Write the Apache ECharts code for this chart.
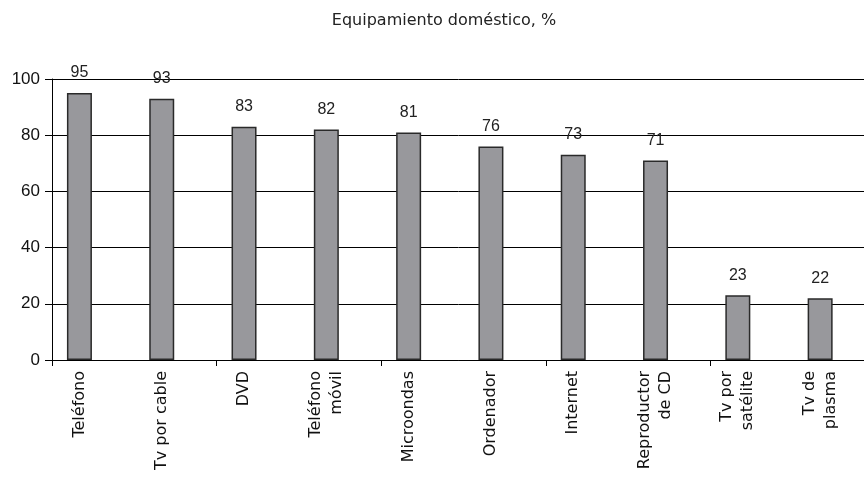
<!doctype html>
<html lang="es">
<head>
    <meta charset="UTF-8">
    <script type="text/javascript" src="https://cdn.jsdelivr.net/npm/echarts@6/dist/echarts.min.js"></script>
    <title>Equipamiento doméstico</title>
    <style>
        html, body { margin: 0; padding: 0; background: #fff; }
    </style>
</head>
<body>
    <div id="main" style="width: 864px;height:488px;"></div>
</body>
<script type="text/javascript">
    // datos del gráfico
    var categories = ['Teléfono', 'Tv por cable', 'DVD', 'Teléfono\nmóvil', 'Microondas',
        'Ordenador', 'Internet', 'Reproductor\nde CD', 'Tv por\nsatélite', 'Tv de\nplasma'];
    var values = [95, 93, 83, 82, 81, 76, 73, 71, 23, 22];
    var yTicks = [0, 20, 40, 60, 80, 100];
    var titleText = 'Equipamiento doméstico, %';

    var catWidth = 82.3;   // ancho de cada categoría
    var plotW = catWidth * categories.length;

    var myChart = echarts.init(document.getElementById('main'));
    myChart.setOption({
        animation: false,
        title: {
            text: titleText,
            left: 439,
            textAlign: 'center',
            top: 8,
            textStyle: {
                fontFamily: 'DejaVu Sans',
                fontSize: 16,
                fontWeight: 'normal',
                color: '#222'
            }
        },
        // grid 0: ejes, marcas y líneas; grid 1: barras y etiquetas (desplazadas a la izquierda)
        grid: [
            { left: 52, width: plotW, top: 79, bottom: 128, outerBoundsMode: 'none' },
            { left: 52 - catWidth / 6, width: plotW, top: 79, bottom: 128, outerBoundsMode: 'none' }
        ],
        xAxis: [
            {
                type: 'category',
                gridIndex: 0,
                data: categories,
                boundaryGap: true,
                axisLine: { lineStyle: { color: '#000', width: 1 } },
                axisTick: { show: true, length: 6, lineStyle: { color: '#000' } },
                axisLabel: { show: false }
            },
            {
                type: 'category',
                gridIndex: 1,
                data: categories,
                boundaryGap: true,
                axisLine: { show: false },
                axisTick: { show: false },
                axisLabel: {
                    interval: 0,
                    rotate: 90,
                    margin: 11,
                    fontFamily: 'DejaVu Sans',
                    fontSize: 16,
                    lineHeight: 21,
                    color: '#111'
                }
            }
        ],
        yAxis: [
            {
                type: 'value',
                gridIndex: 0,
                min: yTicks[0],
                max: yTicks[yTicks.length - 1],
                interval: 20,
                axisLine: { show: true, lineStyle: { color: '#000', width: 1 } },
                axisTick: { show: true, length: 7, lineStyle: { color: '#000' } },
                axisLabel: {
                    margin: 12,
                    fontFamily: 'Liberation Sans',
                    fontSize: 17,
                    color: '#111'
                },
                splitLine: { show: true, lineStyle: { color: '#000', width: 1 } }
            },
            {
                type: 'value',
                gridIndex: 1,
                min: yTicks[0],
                max: yTicks[yTicks.length - 1],
                interval: 20,
                show: false
            }
        ],
        series: [
            {
                name: 'equipamiento',
                type: 'bar',
                xAxisIndex: 1,
                yAxisIndex: 1,
                data: values,
                barWidth: 25,
                itemStyle: {
                    color: '#98989c',
                    borderColor: '#2a2a2a',
                    borderWidth: 1.5
                },
                label: {
                    show: true,
                    position: 'top',
                    distance: 12,
                    fontFamily: 'Liberation Sans',
                    fontSize: 16,
                    color: '#222'
                }
            }
        ]
    });
</script>
</html>
